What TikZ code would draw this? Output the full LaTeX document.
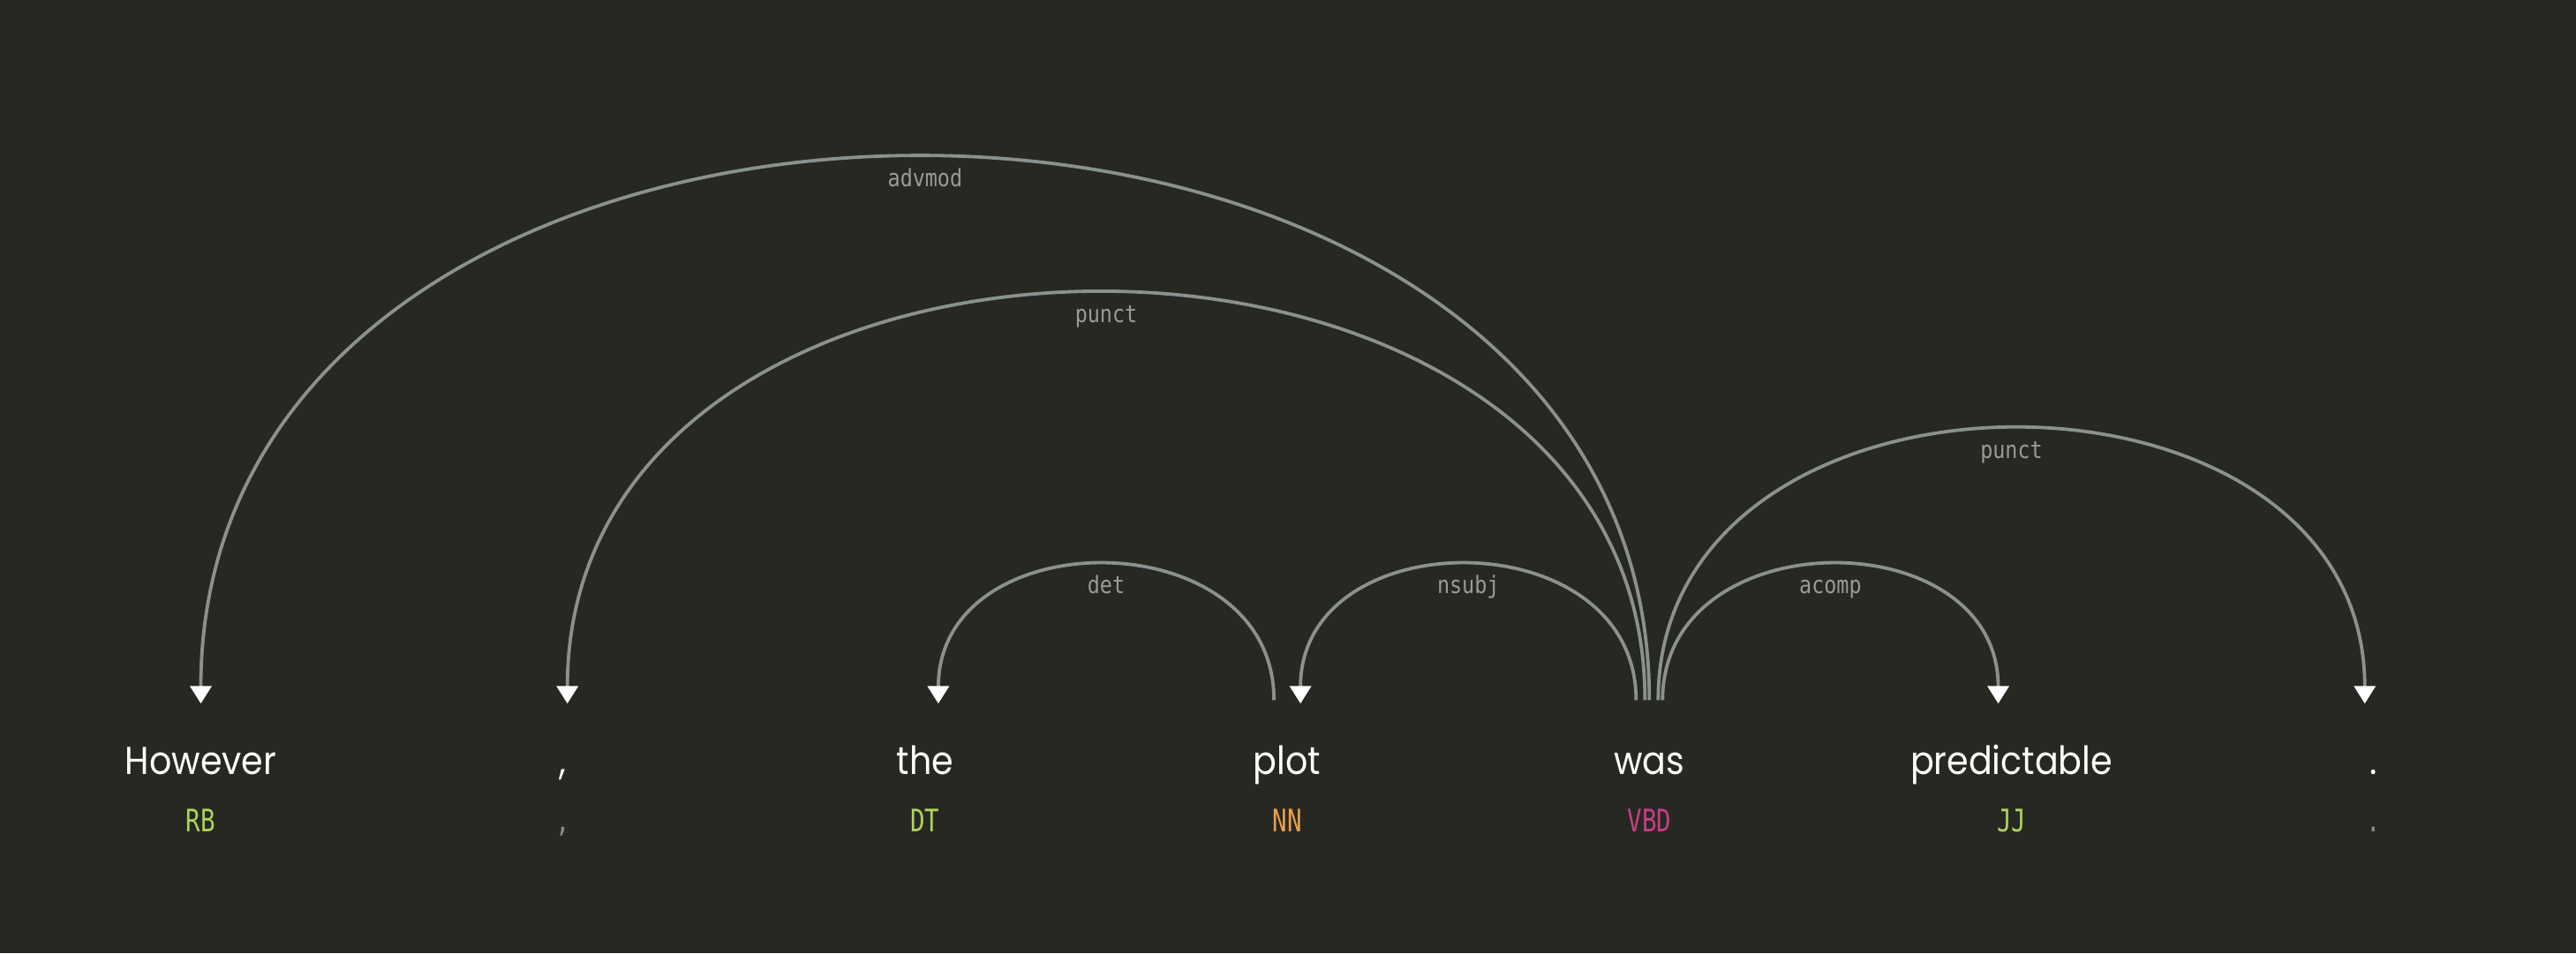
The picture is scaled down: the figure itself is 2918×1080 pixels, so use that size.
\documentclass[tikz,border=0pt]{standalone}
\usepackage{fontspec}
\setmainfont[FakeStretch=0.9]{Poppins}
\newfontfamily\monofont[FakeStretch=0.86]{DejaVu Sans Mono}
\newfontfamily\tagfont[FakeStretch=0.78]{DejaVu Sans Mono}
\usetikzlibrary{arrows.meta}
\definecolor{bg}{HTML}{272822}
\definecolor{arccol}{HTML}{8A918E}
\definecolor{labcol}{HTML}{989B97}
\definecolor{tggreen}{HTML}{AED35A}
\definecolor{tgorange}{HTML}{E9A04C}
\definecolor{tgpink}{HTML}{C83E86}
\definecolor{tggrey}{HTML}{8A8E8A}
\tikzset{
  word/.style={anchor=base, inner sep=0pt, text=white, font=\fontsize{11}{13}\selectfont},
  tag/.style={anchor=base, inner sep=0pt, font=\tagfont\fontsize{8.8}{10}\selectfont},
  arcline/.style={draw=arccol, line width=0.95pt, -{Triangle[width=6pt,length=5pt,color=white,fill=white]}},
  arclab/.style={pos=0.5, anchor=base, yshift=-8.25pt, inner sep=0pt, text=labcol, font=\monofont\fontsize{6.8}{8}\selectfont}
}
\begin{document}
\begin{tikzpicture}[x=0.25pt, y=-0.25pt]
\fill[bg] (0,0) rectangle (2918,1080);
\useasboundingbox (0,0) rectangle (2918,1080);
% words
\node[word] (w0) at (227.5,877) {However};
\node[word] (w1) at (637.7,877) {,};
\node[word] (w2) at (1047.9,877) {the};
\node[word] (w3) at (1458.1,877) {plot};
\node[word] (w4) at (1868.3,877) {was};
\node[word] (w5) at (2278.5,877) {predictable};
\node[word] (w6) at (2688.7,877) {.};
% tags
\node[tag, text=tggreen] (t0) at (227.5,942) {RB};
\node[tag, text=tggrey] (t1) at (637.7,942) {,};
\node[tag, text=tggreen] (t2) at (1047.9,942) {DT};
\node[tag, text=tgorange] (t3) at (1458.1,942) {NN};
\node[tag, text=tgpink] (t4) at (1868.3,942) {VBD};
\node[tag, text=tggreen] (t5) at (2278.5,942) {JJ};
\node[tag, text=tggrey] (t6) at (2688.7,942) {.};
% arc end points
\coordinate (advT) at (1868.3,793.3);
\coordinate (advH) at (227.5,797.3);
\coordinate (p1T) at (1863.3,793.3);
\coordinate (p1H) at (642.7,797.3);
\coordinate (detT) at (1443.1,793.3);
\coordinate (detH) at (1062.9,797.3);
\coordinate (nsT) at (1853.3,793.3);
\coordinate (nsH) at (1473.1,797.3);
\coordinate (acT) at (1883.3,793.3);
\coordinate (acH) at (2263.5,797.3);
\coordinate (p2T) at (1878.3,793.3);
\coordinate (p2H) at (2678.7,797.3);
% arcs
\draw[arcline] (advT) .. controls (1868.3,-27.1) and (227.5,-27.1) .. node[arclab] {advmod} (advH);
\draw[arcline] (p1T) .. controls (1863.3,178.0) and (642.7,178.0) .. node[arclab] {punct} (p1H);
\draw[arcline] (detT) .. controls (1443.1,588.2) and (1062.9,588.2) .. node[arclab] {det} (detH);
\draw[arcline] (nsT) .. controls (1853.3,588.2) and (1473.1,588.2) .. node[arclab] {nsubj} (nsH);
\draw[arcline] (acT) .. controls (1883.3,588.2) and (2263.5,588.2) .. node[arclab] {acomp} (acH);
\draw[arcline] (p2T) .. controls (1878.3,383.1) and (2678.7,383.1) .. node[arclab] {punct} (p2H);
\end{tikzpicture}
\end{document}
